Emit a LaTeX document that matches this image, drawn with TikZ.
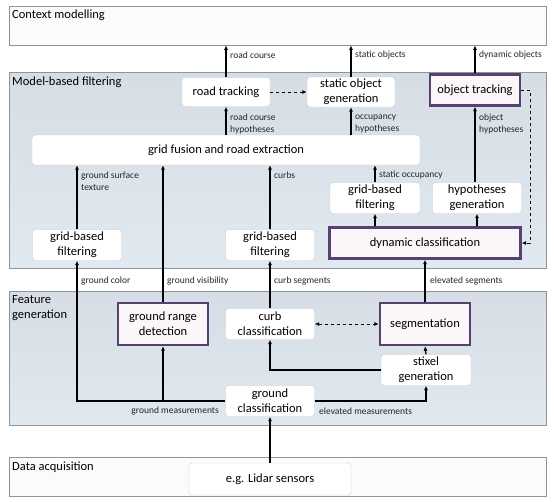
\documentclass[tikz,border=0pt]{standalone}
\usepackage{fontspec}
\setmainfont{Carlito}
\usetikzlibrary{arrows.meta,positioning}

\definecolor{layerfill}{RGB}{224,232,240}
\definecolor{layertop}{RGB}{214,221,229}
\definecolor{layerline}{RGB}{140,148,156}
\definecolor{hotline}{RGB}{84,66,112}
\definecolor{hotfill}{RGB}{252,246,251}

\begin{document}
\begin{tikzpicture}[
	x = 1pt, y = -1pt,
	>={Latex[length = 4.5pt, width = 4pt]},
	layer/.style = {draw = layerline, line width = 0.7pt, inner sep = 0pt, minimum width = 537pt},
	title/.style = {anchor = north west, align = left, inner sep = 0pt, font = \fontsize{12.5}{15}\selectfont},
	box/.style = {draw = gray!40, fill = white, rounded corners = 3pt, align = center, inner sep = 1pt, font = \fontsize{12.5}{15}\selectfont},
	hot/.style = {box, draw = hotline, fill = hotfill, line width = 2.4pt, rounded corners = 0pt},
	note/.style = {anchor = west, align = left, inner sep = 1pt, font = \fontsize{9.5}{11.5}\selectfont, text = black!85},
	flow/.style = {->, line width = 1.3pt},
	hint/.style = {->, dashed, line width = 1pt}
]

\useasboundingbox (0,0) rectangle (554,501);

% layers
\node[layer, fill = white!97!gray, minimum height = 39pt] (ctx) at (277.5, 25.5) {};
\node[layer, top color = layertop, bottom color = layerfill, minimum height = 196pt] (mbf) at (277.5, 170) {};
\node[layer, top color = layertop, bottom color = layerfill, minimum height = 134pt] (feat) at (277.5, 358) {};
\node[layer, fill = white!97!gray, minimum height = 39pt] (acq) at (277.5, 476.5) {};

\node[title] (tctx) at (12, 10) {Context modelling};
\node[title] (tmbf) at (12, 77) {Model-based filtering};
\node[title] (tfeat) at (12, 295) {Feature\\generation};
\node[title] (tacq) at (12, 462) {Data acquisition};

% model-based filtering
\node[box, minimum width = 88pt, minimum height = 29pt] (road) at (226, 92) {road tracking};
\node[box, minimum width = 88pt, minimum height = 30pt] (sog) at (351, 92) {static object\\generation};
\node[hot, minimum width = 90pt, minimum height = 31pt] (otrack) at (475, 90) {object tracking};
\node[box, minimum width = 388pt, minimum height = 30pt] (fusion) at (226, 150) {grid fusion and road extraction};
\node[box, minimum width = 90pt, minimum height = 31pt] (gbf3) at (375, 198) {grid-based\\filtering};
\node[box, minimum width = 89pt, minimum height = 31pt] (hyp) at (477, 198) {hypotheses\\generation};
\node[hot, minimum width = 191pt, minimum height = 31pt] (dyn) at (425, 243) {dynamic classification};
\node[box, minimum width = 89pt, minimum height = 31pt] (gbf1) at (77, 245) {grid-based\\filtering};
\node[box, minimum width = 89pt, minimum height = 31pt] (gbf2) at (270, 245) {grid-based\\filtering};

% feature generation
\node[hot, minimum width = 90pt, minimum height = 42pt] (grd) at (163, 324) {ground range\\detection};
\node[box, minimum width = 89pt, minimum height = 31pt] (curb) at (270, 324) {curb\\classification};
\node[hot, minimum width = 90pt, minimum height = 42pt] (seg) at (425, 324) {segmentation};
\node[box, minimum width = 90pt, minimum height = 31pt] (stixel) at (426, 370) {stixel\\generation};
\node[box, minimum width = 89pt, minimum height = 31pt] (gcls) at (270, 401) {ground\\classification};

% data acquisition
\node[box, minimum width = 162pt, minimum height = 32pt] (lidar) at (270, 479) {e.g. Lidar sensors};

% connectors
\foreach \n in {road, sog, otrack}
	\draw[flow] (\n.north) -- (\n.north |- ctx.south);
\draw[flow] (road.south |- fusion.north) -- (road.south);
\draw[flow] (sog.south |- fusion.north) -- (sog.south);
\draw[flow] (otrack.south |- hyp.north) -- (otrack.south);
\draw[hint] (road.east) -- (road.east -| sog.west);
\draw[hint] (otrack.east) -- ++(9, 0) |- (dyn.east);

\foreach \n in {gbf1, gbf2, gbf3, grd}
	\draw[flow] (\n.north) -- (\n.north |- fusion.south);
\draw[flow] (gbf3.south |- dyn.north) -- (gbf3.south);
\draw[flow] (hyp.south |- dyn.north) -- (hyp.south);

\draw[flow] (curb.north) -- (gbf2.south);
\draw[flow] (seg.north) -- (seg.north |- dyn.south);
\draw[hint, <->] (curb.east) -- (curb.east -| seg.west);
\draw[flow] (gcls.west) -| (gbf1.south);
\draw[flow] (gcls.west -| grd.south) -- (grd.south);
\draw[flow] (gcls.east) -| (stixel.south);
\draw[flow] (stixel.west) -| (curb.south);
\draw[flow] (stixel.north) -- (seg.south);
\draw[flow] (lidar.north) -- (gcls.south);

% labels
\node[note] (lroad) at (229, 55) {road course};
\node[note] (lstat) at (354, 55) {static objects};
\node[note] (ldyn) at (478, 55) {dynamic objects};
\node[note] (lroadh) at (229, 124) {road course\\hypotheses};
\node[note] (locc) at (354, 124) {occupancy\\hypotheses};
\node[note] (lobj) at (478, 124) {object\\hypotheses};
\node[note] (lsurf) at (80, 181) {ground surface\\texture};
\node[note] (lcurbs) at (273, 175) {curbs};
\node[note] (lsocc) at (378, 175) {static occupancy};
\node[note] (lcol) at (80, 281) {ground color};
\node[note] (lvis) at (166, 281) {ground visibility};
\node[note] (lcseg) at (273, 281) {curb segments};
\node[note] (leseg) at (429, 281) {elevated segments};
\node[note, anchor = east] (lgm) at (220, 411) {ground measurements};
\node[note] (lem) at (318, 411) {elevated measurements};

\end{tikzpicture}
\end{document}
